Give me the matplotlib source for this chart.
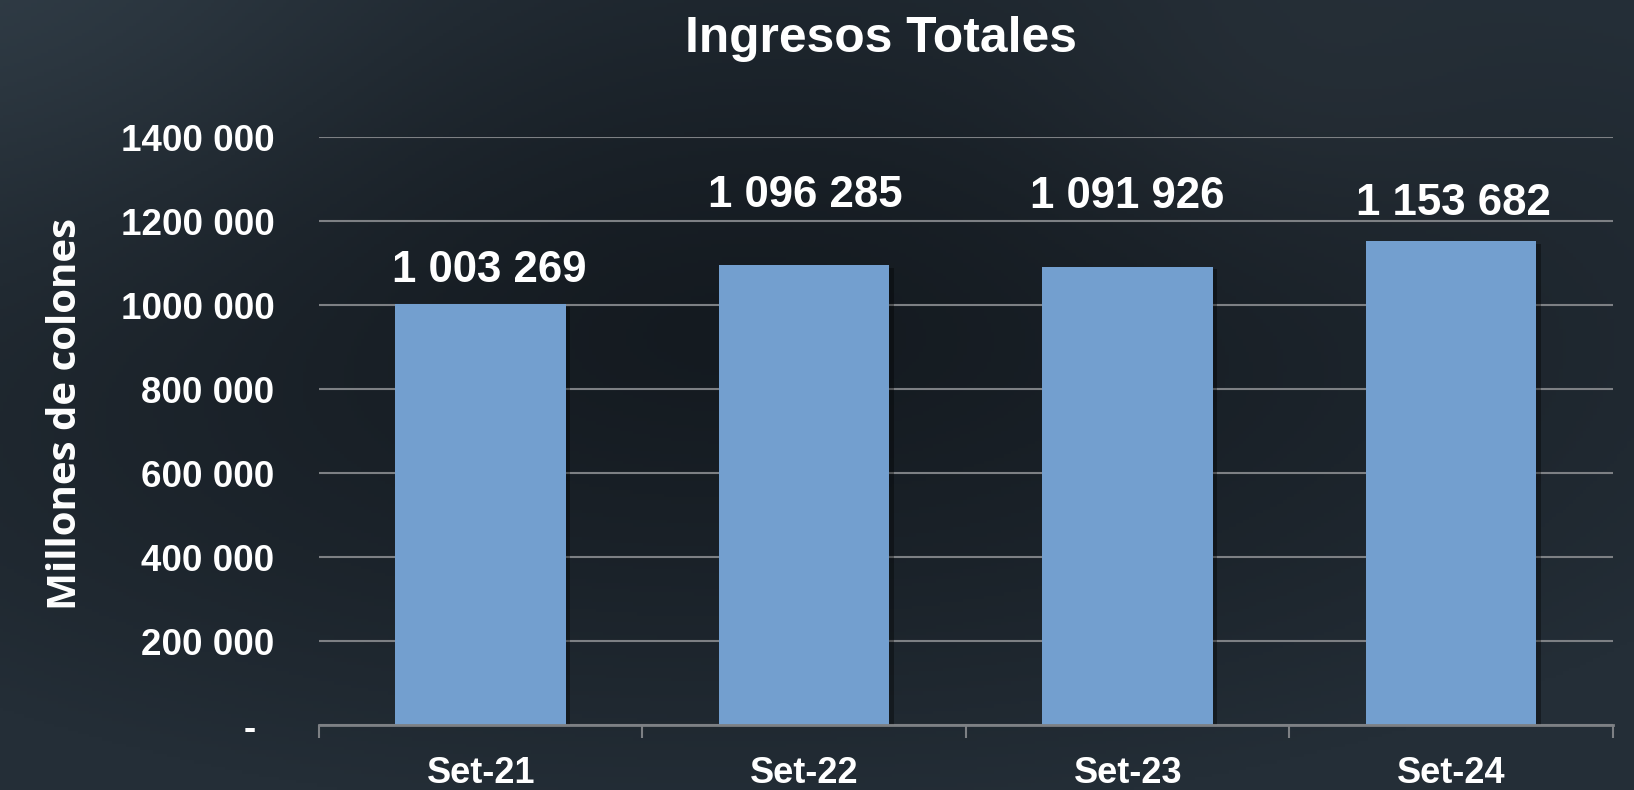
import matplotlib.pyplot as plt
import matplotlib.patheffects as pe
import numpy as np

# Datos del grafico
categories = ['Set-21', 'Set-22', 'Set-23', 'Set-24']
ingresos = [1003269, 1096285, 1091926, 1153682]
bar_labels = ['1 003 269', '1 096 285', '1 091 926', '1 153 682']
y_ticks = [0, 200000, 400000, 600000, 800000, 1000000, 1200000, 1400000]
y_tick_labels = ['-\u2002', '200 000', '400 000', '600 000', '800 000',
                 '1000 000', '1200 000', '1400 000']

BAR_COLOR = '#739fcf'
GRID_COLOR = '#7d8084'
NUM_FONT = 'Liberation Sans'

fig = plt.figure(figsize=(16.34, 7.90), dpi=100)

# Fondo degradado oscuro
bg = fig.add_axes([0, 0, 1, 1], zorder=-10)
h, w = 240, 480
yy, xx = np.mgrid[0:1:h * 1j, 0:1:w * 1j]
d = np.sqrt(((xx - 0.45) / 0.75) ** 2 + ((yy - 0.42) / 0.65) ** 2)
t = np.clip(d / 0.95, 0, 1) ** 1.3
dark = np.array([20, 26, 32]) / 255
edge = np.array([36, 46, 55]) / 255
img = dark + (edge - dark) * t[..., None]
corner = np.exp(-((xx / 0.25) ** 2 + (yy / 0.35) ** 2))
img = img + corner[..., None] * (np.array([48, 60, 70]) / 255 - edge)
glow = np.exp(-(((xx - 0.78) / 0.15) ** 2 + ((yy - 0.12) / 0.2) ** 2))
img = img + glow[..., None] * 0.025
bg.imshow(np.clip(img, 0, 1), aspect='auto', extent=[0, 1, 0, 1], origin='upper')
bg.axis('off')

ax = fig.add_axes([0.1952, 0.0819, 0.7919, 0.7443])
ax.set_facecolor('none')

x = np.arange(len(categories))
bars = ax.bar(x, ingresos, width=0.527, color=BAR_COLOR, zorder=3)
for b in bars:
    b.set_path_effects([pe.SimplePatchShadow(offset=(3, -2), shadow_rgbFace='black', alpha=0.35),
                        pe.Normal()])

# Etiquetas de valores (desplazamiento en pixeles respecto a cada barra)
label_dx = [9, 1, 0, 2]
label_dy = [22, 58, 59, 26]
for xi, val, lab, dx, dy in zip(x, ingresos, bar_labels, label_dx, label_dy):
    ax.annotate(lab, (xi, val), xytext=(dx, dy), textcoords='offset pixels',
                ha='center', va='baseline', color='white', fontsize=31.5,
                fontweight='bold', family=NUM_FONT, zorder=4)

ax.set_xlim(-0.5, 3.5)
ax.set_ylim(0, 1400000)

ax.set_yticks(y_ticks)
ax.set_yticklabels(y_tick_labels)
ax.tick_params(axis='y', length=0, pad=32, labelsize=26.5, labelcolor='white')
for lab in ax.get_yticklabels():
    lab.set_fontweight('bold')
    lab.set_family(NUM_FONT)

# ticks en los limites de categoria, etiquetas centradas
ax.set_xticks(np.arange(-0.5, 4, 1))
ax.set_xticklabels([])
ax.set_xticks(x, minor=True)
ax.set_xticklabels(categories, minor=True)
ax.tick_params(axis='x', which='major', length=9, width=1.5, color=GRID_COLOR)
ax.tick_params(axis='x', which='minor', length=0, pad=22, labelsize=26, labelcolor='white')
for lab in ax.get_xticklabels(minor=True):
    lab.set_fontweight('bold')
    lab.set_family(NUM_FONT)

ax.grid(axis='y', color=GRID_COLOR, linewidth=1.5, zorder=0)
ax.set_axisbelow(True)
for side in ['top', 'right', 'left']:
    ax.spines[side].set_visible(False)
ax.spines['bottom'].set_color(GRID_COLOR)
ax.spines['bottom'].set_linewidth(2)
ax.spines['bottom'].set_zorder(5)

fig.text(66 / 1634, 1 - 414 / 790, 'Millones de colones', rotation=90,
         ha='center', va='center', color='white', fontsize=29,
         fontweight='bold', family='Open Sans')

fig.text(881 / 1634, 1 - 52 / 790, 'Ingresos Totales', ha='center',
         va='baseline', color='white', fontsize=35.8, fontweight='bold',
         family=NUM_FONT)

fig.savefig('out.png', dpi=100)
